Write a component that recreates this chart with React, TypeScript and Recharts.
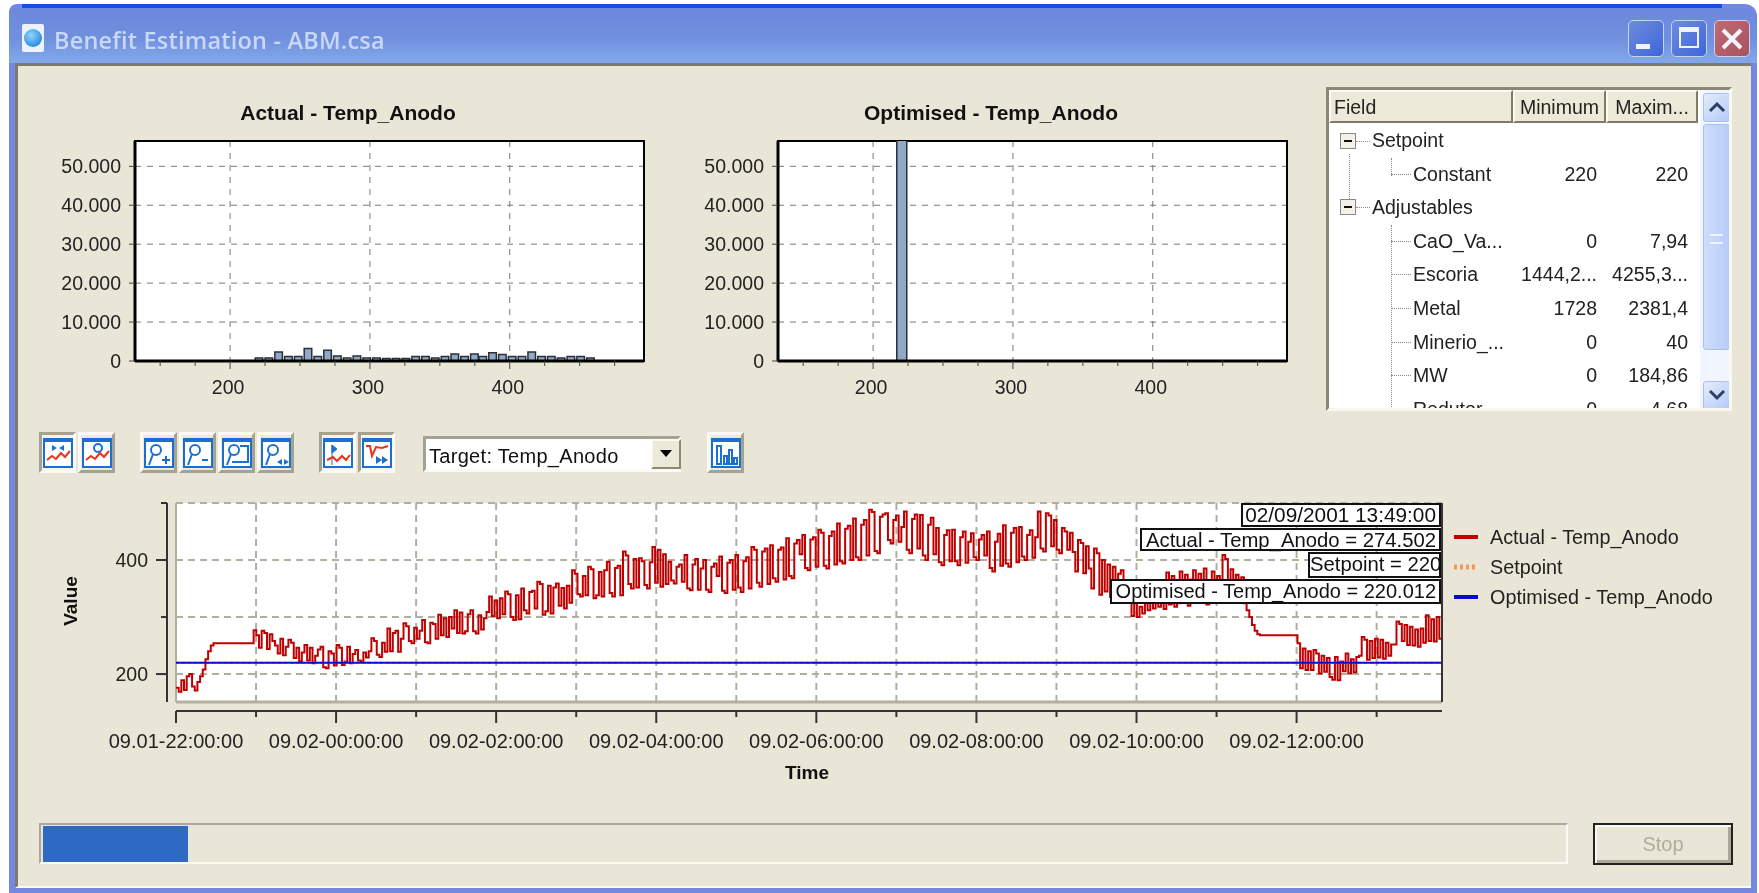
import React from "react";
import {
  BarChart, Bar, LineChart, Line, XAxis, YAxis, CartesianGrid,
  ReferenceArea, ReferenceLine, Legend,
} from "recharts";

const FONT = '"Liberation Sans", Arial, sans-serif';

// histogram of the actual temperature
const actualBinCenters = [
  221, 228, 235, 242, 249, 256, 263, 270, 277, 284, 291, 298, 305, 312, 319, 326, 333, 340,
  347, 354, 361, 368, 375, 381, 388, 395, 402, 409, 416, 423, 430, 437, 444, 451, 458,
];
const actualBinCounts = [
  800, 800, 2300, 1150, 1150, 3200, 1150, 2750, 1300, 750, 1300, 750, 750, 650, 650, 650, 1150, 1150,
  750, 1150, 1800, 1150, 1800, 1150, 2150, 1650, 1150, 1150, 2300, 1150, 1150, 750, 1150, 1150, 750,
];
const optimisedBinCenters = [220.5];
const optimisedBinCounts = [62000];

const histogramYTicks = [0, 10000, 20000, 30000, 40000, 50000];
const histogramXTicks = [150, 175, 200, 225, 250, 275, 300, 325, 350, 375, 400, 425, 450, 475];
const histogramXLabels = [200, 300, 400];

// time series, minutes after 09.01 22:00, one reading about every 2 minutes
const END_MINUTE = 949;
const actualValues = [
  176, 169, 189, 172, 196, 200, 178, 171,
  186, 196, 208, 226, 240, 250,
  254, 254, 254, 254, 254, 254, 254, 254, 254, 254, 254, 254, 254, 254, 254,
  277, 268, 246, 276, 272, 244, 270,
  258, 250, 236, 262, 233, 248,
  260, 255, 228, 246, 222, 238,
  251, 224, 246, 219, 232, 243,
  248, 212, 210, 240, 236, 215,
  251, 246, 216, 222, 248, 219, 235,
  242, 224, 222, 238, 229, 240,
  263, 258, 234, 230, 255, 239,
  280, 240, 272, 276, 239, 262,
  289, 284, 258, 254, 281, 262, 276,
  295, 256, 254, 290, 288, 262,
  304, 268, 298, 265, 300, 280,
  312, 272, 308, 271, 275, 305,
  312, 275, 271, 303, 278, 298, 309,
  336, 302, 329, 298, 333, 305,
  345, 340, 300, 295, 338, 296,
  350, 312, 306, 344, 346, 315,
  362, 358, 304, 310, 355, 306, 352,
  359, 320, 351, 315, 355, 325,
  382, 376, 340, 336, 372, 338,
  388, 384, 333, 338, 379, 336, 382,
  397, 342, 336, 386, 390, 338,
  415, 408, 358, 350, 402,
  352, 403, 398, 356, 350, 396,
  423, 360, 418, 353, 410, 358,
  397, 364, 359, 388, 392, 362,
  409, 350, 347, 392, 402, 348, 385,
  400, 348, 344, 388, 394, 372,
  406, 346, 342, 395, 400, 348,
  409, 352, 344, 398, 405, 350,
  423, 418, 360, 353, 415, 420, 358,
  426, 368, 362, 418, 422, 366,
  438, 372, 368, 429, 435, 410,
  444, 386, 382, 436, 440, 388,
  453, 448, 390, 385, 442, 450, 392,
  464, 398, 394, 455, 460, 400,
  473, 405, 400, 462, 470, 408,
  488, 484, 416, 412, 476, 480,
  482, 435, 429, 470, 478, 432, 458,
  485, 418, 412, 472, 480, 420,
  479, 408, 400, 462, 474, 410,
  456, 396, 391, 444, 452, 398,
  453, 398, 391, 440, 450, 395, 432,
  447, 405, 400, 436, 444, 408,
  450, 386, 380, 432, 446, 390,
  461, 394, 388, 448, 456, 396,
  458, 406, 400, 444, 452, 404, 440,
  485, 420,
  415, 482, 478, 424, 470, 418,
  412, 456, 450, 418, 448, 414,
  380, 435, 430, 377, 424, 385,
  350, 420, 412, 339, 400, 345, 392,
  335, 388, 330, 376, 382, 345, 336,
  330, 302, 326, 300, 318, 306,
  342, 312, 336, 315, 340, 318, 330, 314,
  378, 322, 372, 318, 324, 380, 330, 374, 320, 366,
  382, 325, 376, 330, 385, 322, 328, 380, 326, 372, 330,
  409, 402, 340, 384, 332, 374, 338, 370,
  324, 312, 300, 286, 276, 270,
  268, 268, 268, 268, 268, 268, 268, 268, 268, 268, 268, 268, 268, 268,
  254, 210, 245, 207, 240,
  207, 242, 236, 201, 232, 204,
  228, 195, 190, 230, 189, 222,
  205, 236, 201, 226, 203, 230,
  232, 265, 260, 225, 258, 228, 262,
  229, 260, 227, 255, 232, 252,
  252, 292, 288, 258, 286, 251,
  283, 250, 278, 248, 280, 255,
  303, 258, 296, 257, 300, 262, 274.5,
];
const SETPOINT = 220;
const OPTIMISED = 220.012;

const timeTicks = [0, 60, 120, 180, 240, 300, 360, 420, 480, 540, 600, 660, 720, 780, 840, 900];
const timeLabels = [
  "09.01-22:00:00", "", "09.02-00:00:00", "", "09.02-02:00:00", "", "09.02-04:00:00", "",
  "09.02-06:00:00", "", "09.02-08:00:00", "", "09.02-10:00:00", "", "09.02-12:00:00", "",
];
const valueTicks = [200, 300, 400, 500];
const valueLabels = [200, 400];

const cursorLabels = [
  "02/09/2001 13:49:00",
  "Actual - Temp_Anodo = 274.502",
  "Setpoint = 220",
  "Optimised - Temp_Anodo = 220.012",
];

// tree table on the right
const treeFields = ["Setpoint", "Constant", "Adjustables", "CaO_Va...", "Escoria", "Metal", "Minerio_...", "MW", "Redutor"];
const treeMinimum = ["", "220", "", "0", "1444,2...", "1728", "0", "0", "0"];
const treeMaximum = ["", "220", "", "7,94", "4255,3...", "2381,4", "40", "184,86", "4,68"];

const seriesData = actualValues.map((v, i) => ({
  minute: (i * END_MINUTE) / (actualValues.length - 1),
  actual: v,
  setpoint: SETPOINT,
  optimised: OPTIMISED,
}));

const Abs = ({ l, t, w, h, style, children }: any) => (
  <div style={{ position: "absolute", left: l, top: t, width: w, height: h, boxSizing: "border-box", ...style }}>
    {children}
  </div>
);

const HistTick = ({ x, y, payload }: any) => {
  const major = histogramXLabels.includes(payload.value);
  return (
    <g>
      <line x1={x} x2={x} y1={y} y2={y + (major ? 8 : 5)} stroke="#444" />
      {major && (
        <text x={x - 2} y={y + 33} textAnchor="middle" fontSize={19.5} fill="#222">
          {payload.value}
        </text>
      )}
    </g>
  );
};

function Histogram({ left, title, centers, counts }: any) {
  const data = centers.map((c: number, i: number) => ({ value: c, count: counts[i] }));
  return (
    <Abs l={left} t={0} w={680} h={420}>
      <div
        style={{
          position: "absolute", left: 148, width: 400, top: 101, textAlign: "center",
          fontWeight: "bold", fontSize: 21, color: "#111",
        }}
      >
        {title}
      </div>
      <BarChart width={680} height={420} data={data} margin={{ top: 141, right: 36, bottom: 19, left: 55 }} barSize={10}>
        <CartesianGrid
          fill="#fff"
          stroke="#777"
          strokeDasharray="6 6"
          horizontalValues={histogramYTicks}
          verticalValues={histogramXLabels}
        />
        <XAxis
          dataKey="value"
          type="number"
          domain={[132, 496]}
          allowDataOverflow
          ticks={histogramXTicks}
          interval={0}
          height={40}
          tick={HistTick}
          tickLine={false}
          tickSize={0}
          tickMargin={0}
          axisLine={{ stroke: "#000", strokeWidth: 3 }}
        />
        <YAxis
          type="number"
          domain={[0, 56500]}
          allowDataOverflow
          ticks={histogramYTicks}
          interval={0}
          width={80}
          tickSize={6}
          tickMargin={8}
          tick={{ fontSize: 19.5, fill: "#222" }}
          tickFormatter={(v: number) => String(v).replace(/(\d)(\d{3})$/, "$1.$2")}
          stroke="#444"
          axisLine={{ stroke: "#000", strokeWidth: 3 }}
        />
        <Bar dataKey="count" fill="#8FA9C6" stroke="#2a2f38" strokeWidth={1.5} isAnimationActive={false} />
        <ReferenceArea x1={132} x2={496} y1={0} y2={56500} fill="none" stroke="#000" strokeWidth={2} />
      </BarChart>
    </Abs>
  );
}

const TimeTick = ({ x, y, index }: any) => {
  const label = timeLabels[index];
  return (
    <g>
      <line x1={x} x2={x} y1={y + 9} y2={y + 9 + (label ? 12 : 6)} stroke="#333" strokeWidth={2} />
      {label && (
        <text x={x} y={y + 46} textAnchor="middle" fontSize={20} fill="#222">
          {label}
        </text>
      )}
    </g>
  );
};

const ValueTick = ({ x, y, payload }: any) => {
  const major = valueLabels.includes(payload.value);
  return (
    <g>
      <line x1={x - 9} x2={x - 9 - (major ? 11 : 6)} y1={y} y2={y} stroke="#333" strokeWidth={2} />
      {major && (
        <text x={x - 28} y={y + 7} textAnchor="end" fontSize={19.5} fill="#222">
          {payload.value}
        </text>
      )}
    </g>
  );
};

const LegendRows = ({ payload }: any) => (
  <div style={{ fontFamily: FONT, fontSize: 19.8, color: "#222" }}>
    {(payload || []).map((item: any) => (
      <div key={item.value} style={{ display: "flex", alignItems: "center", height: 30 }}>
        <svg width={24} height={6} style={{ marginRight: 12 }}>
          <line
            x1={0} x2={24} y1={3} y2={3}
            stroke={item.color}
            strokeWidth={item.payload?.strokeDasharray ? 5 : 4}
            strokeDasharray={item.payload?.strokeDasharray}
          />
        </svg>
        {item.value}
      </div>
    ))}
  </div>
);

function TimeChart() {
  return (
    <Abs l={0} t={420} w={1759} h={400}>
      <LineChart
        width={1759}
        height={400}
        data={seriesData}
        margin={{ top: 83, right: 317, bottom: 28, left: 40 }}
        style={{ fontFamily: FONT }}
      >
        <CartesianGrid
          fill="#fff"
          stroke="#B3AF9F"
          strokeWidth={2}
          strokeDasharray="7 5"
          horizontalValues={valueTicks}
          verticalValues={timeTicks}
        />
        <XAxis
          dataKey="minute"
          type="number"
          domain={[0, END_MINUTE]}
          ticks={timeTicks}
          interval={0}
          height={90}
          tick={TimeTick}
          tickLine={false}
          tickSize={0}
          tickMargin={0}
          axisLine={{ stroke: "#333", strokeWidth: 2, transform: "translate(0 9)" }}
          label={{
            content: () => (
              <text x={807} y={359} textAnchor="middle" fontSize={19} fontWeight="bold" fill="#111">
                Time
              </text>
            ),
          }}
        />
        <YAxis
          type="number"
          domain={[151, 500]}
          allowDataOverflow
          ticks={valueTicks}
          interval={0}
          width={136}
          tick={ValueTick}
          tickLine={false}
          tickSize={0}
          tickMargin={0}
          axisLine={{ stroke: "#333", strokeWidth: 2, transform: "translate(-9 0)" }}
          label={{
            content: () => (
              <text x={77} y={181} textAnchor="middle" fontSize={19} fontWeight="bold" fill="#111" transform="rotate(-90 77 181)">
                Value
              </text>
            ),
          }}
        />
        <ReferenceLine y={151} stroke="#B3AF9F" strokeWidth={3} />
        <ReferenceLine x={0} stroke="#B3AF9F" strokeWidth={2} />
        <Line dataKey="actual" name="Actual - Temp_Anodo" type="stepAfter" stroke="#C00000" strokeWidth={2} dot={false} isAnimationActive={false} />
        <Line dataKey="setpoint" name="Setpoint" type="linear" stroke="#F2975A" strokeWidth={2} strokeDasharray="3 3" dot={false} isAnimationActive={false} />
        <Line dataKey="optimised" name="Optimised - Temp_Anodo" type="linear" stroke="#0A0ACD" strokeWidth={2} dot={false} isAnimationActive={false} />
        <ReferenceLine x={END_MINUTE} stroke="#333" strokeWidth={2} />
        <Legend
          layout="horizontal"
          verticalAlign="middle"
          align="center"
          itemSorter={null}
          wrapperStyle={{ left: 1454, top: 102, width: 300 }}
          content={LegendRows}
        />
      </LineChart>
    </Abs>
  );
}

const BOX = { background: "#fff", border: "2px solid #111", color: "#111", textAlign: "right" as const, whiteSpace: "nowrap" as const, paddingRight: 3, lineHeight: "20px" };

function CursorBoxes() {
  const boxes = [
    [1241, 503, 200, 24, 20.8],
    [1140, 528, 301, 23, 20.3],
    [1308, 552, 133, 26, 20.3],
    [1110, 579, 331, 25, 20],
  ];
  return (
    <>
      {boxes.map(([l, t, w, h, size], i) => (
        <Abs key={i} l={l} t={t} w={w} h={h} style={{ ...BOX, fontSize: size }}>
          {cursorLabels[i]}
        </Abs>
      ))}
    </>
  );
}

const BLUE = "#1B6FD1";
const zig = "4,22 9,18 13,21 18,15 22,19 27,13";

function Icon({ kind }: { kind: string }) {
  const lens = (
    <g fill="none" stroke={BLUE} strokeWidth={2}>
      <circle cx={12} cy={12} r={5} />
      <line x1={9} y1={16} x2={5} y2={27} />
    </g>
  );
  return (
    <svg width={30} height={30} viewBox="0 0 30 30">
      <rect x={1} y={1} width={28} height={28} fill="#fff" stroke={BLUE} strokeWidth={2} />
      <rect x={1} y={1} width={28} height={3} fill={BLUE} />
      {kind === "pan" && (
        <>
          <path d="M14 10 L9 7 V13 Z M16 10 L21 7 V13 Z" fill={BLUE} />
          <polyline points={zig} fill="none" stroke="#E8331C" strokeWidth={2} />
        </>
      )}
      {kind === "trace" && (
        <>
          <circle cx={16} cy={10} r={4} fill="none" stroke={BLUE} strokeWidth={2} />
          <polyline points={zig} fill="none" stroke="#E8331C" strokeWidth={2} />
        </>
      )}
      {kind === "plus" && <>{lens}<path d="M18 22 H26 M22 18 V26" stroke={BLUE} strokeWidth={2} /></>}
      {kind === "minus" && <>{lens}<path d="M19 22 H25" stroke={BLUE} strokeWidth={2} /></>}
      {kind === "fit" && <>{lens}<path d="M18 8 H26 V24 H10" fill="none" stroke={BLUE} strokeWidth={2} /></>}
      {kind === "span" && <>{lens}<path d="M21 21 L16 24 L21 27 Z M23 21 L28 24 L23 27 Z" fill={BLUE} /></>}
      {kind === "prev" && (
        <>
          <path d="M9 7 L14 11 L9 15 Z M9 7 V27" fill={BLUE} stroke={BLUE} />
          <polyline points="4,22 10,19 14,23 19,18 23,22 27,17" fill="none" stroke="#E8331C" strokeWidth={2} />
        </>
      )}
      {kind === "next" && (
        <>
          <polyline points="4,8 8,8 10,18 14,9 20,10 26,8" fill="none" stroke="#E8331C" strokeWidth={2} />
          <path d="M14 18 L20 22 L14 26 Z M20 18 L26 22 L20 26 Z" fill={BLUE} />
        </>
      )}
      {kind === "bars" && (
        <path d="M6 8 H10 V26 H6 Z M13 18 H16 V26 H13 Z M18 12 H21 V26 H18 Z M23 20 H26 V26 H23 Z" fill="none" stroke={BLUE} strokeWidth={2} />
      )}
    </svg>
  );
}

function ToolButton({ l, w = 37, kind, pressed }: any) {
  const dark = "#A5A291";
  return (
    <Abs
      l={l} t={432} w={w} h={41}
      style={{
        borderStyle: "solid",
        borderWidth: 3,
        borderColor: pressed ? `${dark} #FBFAF5 #FBFAF5 ${dark}` : `#FBFAF5 ${dark} ${dark} #FBFAF5`,
        background: pressed ? "#F6F4EC" : "#ECE9D8",
        display: "flex", alignItems: "center", justifyContent: "center",
      }}
    >
      <Icon kind={kind} />
    </Abs>
  );
}

function TreeTable() {
  const dotted = "1px dotted #8a8a8a";
  return (
    <Abs
      l={1326} t={87} w={406} h={324}
      style={{ background: "#fff", borderStyle: "solid", borderWidth: 3, borderColor: "#8A8775 #F8F7F0 #F8F7F0 #8A8775", overflow: "hidden", fontSize: 19.5, color: "#222" }}
    >
      {/* header */}
      {[
        ["Field", 0, 184, 3, "left"],
        ["Minimum", 184, 93, 0, "center"],
        ["Maxim...", 277, 92, 0, "center"],
      ].map(([txt, l, w, pad, align]: any) => (
        <Abs
          key={txt} l={l} t={0} w={w} h={33}
          style={{
            background: "#ECE9D8", borderStyle: "solid", borderWidth: 2,
            borderColor: "#FBFAF5 #7F7B68 #7F7B68 #FBFAF5",
            paddingLeft: pad, textAlign: align, lineHeight: "30px",
          }}
        >
          {txt}
        </Abs>
      ))}
      {/* tree connectors and expander boxes */}
      <Abs l={12 + 8} t={64} w={1} h={55} style={{ borderLeft: dotted }} />
      <Abs l={62} t={68} w={1} h={18} style={{ borderLeft: dotted }} />
      <Abs l={62} t={135} w={1} h={190} style={{ borderLeft: dotted }} />
      {[51, 117].map((t) => (
        <React.Fragment key={t}>
          <Abs l={11} t={t - 8} w={16} h={16} style={{ border: "1px solid #8a8a8a", background: "#F4F2E8", fontSize: 14, lineHeight: "12px", textAlign: "center" }}>
            <div style={{ width: 8, height: 2, background: "#111", margin: "6px auto 0" }} />
          </Abs>
          <Abs l={27} t={t} w={14} h={1} style={{ borderTop: dotted }} />
        </React.Fragment>
      ))}
      {treeFields.map((name, i) => {
        const top = 50 + i * 33.6;
        const child = i !== 0 && i !== 2;
        return (
          <React.Fragment key={name}>
            {child && <Abs l={62} t={top} w={20} h={1} style={{ borderTop: dotted }} />}
            <Abs l={child ? 84 : 43} t={top - 12} w={110} h={24} style={{ lineHeight: "24px", whiteSpace: "nowrap" }}>
              {name}
            </Abs>
            <Abs l={180} t={top - 12} w={88} h={24} style={{ lineHeight: "24px", textAlign: "right", whiteSpace: "nowrap" }}>
              {treeMinimum[i]}
            </Abs>
            <Abs l={270} t={top - 12} w={89} h={24} style={{ lineHeight: "24px", textAlign: "right", whiteSpace: "nowrap" }}>
              {treeMaximum[i]}
            </Abs>
          </React.Fragment>
        );
      })}
      {/* scrollbar */}
      <Abs l={371} t={0} w={32} h={318} style={{ background: "#F1F5FE" }} />
      <Abs l={374} t={34} w={27} h={226} style={{ background: "linear-gradient(90deg,#CFDDFD,#B7CCF9)", borderRadius: 3, border: "1px solid #A9C0F2" }} />
      <Abs l={381} t={144} w={13} h={10} style={{ borderTop: "2px solid #EEF3FE", borderBottom: "2px solid #EEF3FE" }} />
      {[3, 291].map((t, i) => (
        <Abs key={t} l={374} t={t} w={27} h={29} style={{ background: "linear-gradient(135deg,#E4ECFD,#B5CAF8)", borderRadius: 3, border: "1px solid #A9C0F2", textAlign: "center" }}>
          <svg width={18} height={14} style={{ marginTop: 6 }}>
            <polyline points={i === 0 ? "2,11 9,4 16,11" : "2,3 9,10 16,3"} fill="none" stroke="#2B3F66" strokeWidth={3} />
          </svg>
        </Abs>
      ))}
    </Abs>
  );
}

function WindowFrame() {
  return (
    <>
      <Abs l={9} t={4} w={1748} h={889} style={{ background: "#7488E0", borderRadius: "8px 12px 0 0" }} />
      <Abs l={22} t={4} w={1700} h={4} style={{ background: "#1650E2" }} />
      <Abs l={9} t={8} w={1748} h={55} style={{ background: "linear-gradient(180deg,#6C87DC,#7090DE 55%,#82A8E9)", borderRadius: "8px 12px 0 0" }} />
      <Abs l={15} t={63} w={1736} h={825} style={{ background: "#EAE6D7", borderTop: "3px solid #7F7B68", borderLeft: "3px solid #7F7B68", borderBottom: "2px solid #FBFAF5" }} />
      {/* title icon */}
      <Abs l={22} t={24} w={22} h={28} style={{ background: "#EEF3FB", borderRadius: 2 }}>
        <div style={{ width: 18, height: 18, borderRadius: 9, margin: "5px 2px", background: "radial-gradient(circle at 40% 35%,#8FD8FF,#0C6FD6)" }} />
      </Abs>
      <Abs l={54} t={24} w={400} h={32} style={{ fontFamily: '"Open Sans"', fontWeight: 600, fontSize: 23.5, letterSpacing: 0.2, color: "#C9D8F6", lineHeight: "32px", whiteSpace: "nowrap" }}>
        Benefit Estimation - ABM.csa
      </Abs>
      {/* window buttons */}
      {[1628, 1671].map((l) => (
        <Abs key={l} l={l} t={20} w={36} h={37} style={{ background: "linear-gradient(135deg,#6E8BE0,#3F66D8)", border: "1px solid #C5D3F4", borderRadius: 5 }} />
      ))}
      <Abs l={1636} t={44} w={14} h={5} style={{ background: "#EEF3FF" }} />
      <Abs l={1679} t={27} w={20} h={21} style={{ border: "2px solid #EEF3FF", borderTopWidth: 5 }} />
      <Abs l={1714} t={20} w={36} h={37} style={{ background: "linear-gradient(135deg,#C06A75,#A9525F)", border: "1px solid #C5D3F4", borderRadius: 5 }}>
        <svg width={34} height={35}>
          <path d="M8 9 L26 27 M26 9 L8 27" stroke="#F4F4FB" strokeWidth={4} />
        </svg>
      </Abs>
    </>
  );
}

export default function App() {
  return (
    <div
      style={{
        position: "absolute", left: 0, top: 0, width: 1759, height: 893, overflow: "hidden",
        background: "#fff", fontFamily: FONT, filter: "blur(0.5px)",
      }}
    >
      <WindowFrame />
      <Histogram left={0} title="Actual - Temp_Anodo" centers={actualBinCenters} counts={actualBinCounts} />
      <Histogram left={643} title="Optimised - Temp_Anodo" centers={optimisedBinCenters} counts={optimisedBinCounts} />
      <TreeTable />

      <ToolButton l={39} kind="pan" pressed />
      <ToolButton l={78} kind="trace" />
      <ToolButton l={140} kind="plus" />
      <ToolButton l={179} kind="minus" />
      <ToolButton l={218} kind="fit" />
      <ToolButton l={257} kind="span" />
      <ToolButton l={319} kind="prev" pressed />
      <ToolButton l={358} kind="next" pressed />
      <Abs
        l={423} t={436} w={258} h={36}
        style={{
          background: "#fff", borderStyle: "solid", borderWidth: 3,
          borderColor: "#A5A291 #FBFAF5 #FBFAF5 #A5A291", fontSize: 20, color: "#111",
          paddingLeft: 3, lineHeight: "34px", letterSpacing: 0.3,
        }}
      >
        Target: Temp_Anodo
        <Abs
          l={225} t={0} w={30} h={30}
          style={{ background: "#ECE9D8", borderStyle: "solid", borderWidth: 2, borderColor: "#FBFAF5 #8A8775 #8A8775 #FBFAF5" }}
        >
          <svg width={26} height={26} style={{ display: "block" }}>
            <path d="M7 9 H19 L13 16 Z" fill="#000" />
          </svg>
        </Abs>
      </Abs>
      <ToolButton l={707} kind="bars" />

      <TimeChart />
      <CursorBoxes />

      {/* progress */}
      <Abs l={39} t={823} w={1529} h={41} style={{ borderStyle: "solid", borderWidth: 2, borderColor: "#ACA899 #FBFAF5 #FBFAF5 #ACA899" }} />
      <Abs l={43} t={826} w={145} h={36} style={{ background: "#2E69C4" }} />
      <Abs
        l={1593} t={823} w={140} h={42}
        style={{
          borderStyle: "solid", borderWidth: 2, borderColor: "#222",
          boxShadow: "inset 2px 2px 0 #FBFAF5, inset -3px -3px 0 #ACA899",
          color: "#B0AD9D", fontSize: 20, textAlign: "center", lineHeight: "38px",
        }}
      >
        Stop
      </Abs>
    </div>
  );
}
